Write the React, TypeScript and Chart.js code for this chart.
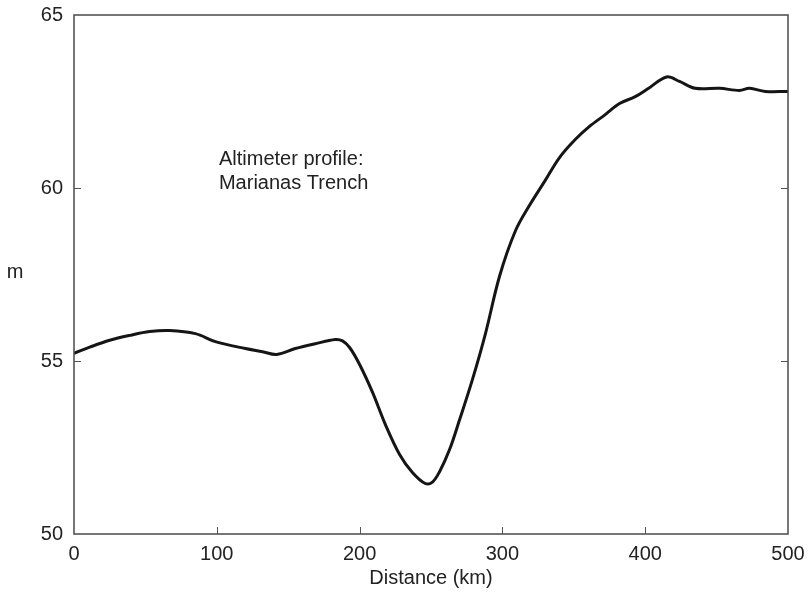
import React, { useEffect, useRef } from "react";
import { Chart, registerables } from "chart.js";

Chart.register(...registerables);

const distanceKm = [0, 11, 25, 39, 53, 67, 85, 99, 120, 132, 142, 155, 169, 183, 188, 193, 200, 209, 218, 228, 237, 246, 251, 256, 263, 270, 279, 288, 298, 309, 319, 330, 340, 351, 361, 372, 382, 393, 403, 415, 424, 435, 452, 466, 473, 484, 500];
const heightM = [55.22, 55.4, 55.6, 55.74, 55.85, 55.88, 55.79, 55.56, 55.36, 55.27, 55.19, 55.36, 55.5, 55.62, 55.58, 55.39, 54.9, 54.1, 53.17, 52.3, 51.78, 51.46, 51.5, 51.8, 52.44, 53.3, 54.46, 55.77, 57.45, 58.75, 59.5, 60.22, 60.88, 61.4, 61.78, 62.12, 62.44, 62.64, 62.9, 63.21, 63.08, 62.88, 62.88, 62.82, 62.88, 62.79, 62.79];
const xTicks = [0, 100, 200, 300, 400, 500];
const yTicks = [50, 55, 60, 65];
const annotationLines = ["Altimeter profile:", "Marianas Trench"];
const xTitle = "Distance (km)";
const yTitle = "m";

const FONT = "'Liberation Sans', Arial, sans-serif";

export default function App() {
  const ref = useRef<HTMLCanvasElement | null>(null);

  useEffect(() => {
    document.body.style.margin = "0";
    const canvas = ref.current;
    if (!canvas) return;

    const framePlugin = {
      id: "frame",
      afterDraw(chart: any) {
        const { ctx, chartArea } = chart;
        const xs = chart.scales.x;
        const ys = chart.scales.y;
        ctx.save();
        ctx.strokeStyle = "#4a4a4a";
        ctx.lineWidth = 1.5;
        ctx.strokeRect(chartArea.left, chartArea.top, chartArea.right - chartArea.left, chartArea.bottom - chartArea.top);
        const tl = 7;
        ctx.lineWidth = 1;
        ctx.strokeStyle = "#555";
        ctx.beginPath();
        yTicks.slice(1, -1).forEach((v) => {
          const py = Math.round(ys.getPixelForValue(v)) + 0.5;
          ctx.moveTo(chartArea.left, py);
          ctx.lineTo(chartArea.left + tl, py);
          ctx.moveTo(chartArea.right, py);
          ctx.lineTo(chartArea.right - tl, py);
        });
        xTicks.slice(1, -1).forEach((v) => {
          const px = Math.round(xs.getPixelForValue(v)) + 0.5;
          ctx.moveTo(px, chartArea.bottom);
          ctx.lineTo(px, chartArea.bottom - tl);
        });
        ctx.stroke();

        ctx.fillStyle = "#222";
        ctx.font = `20px ${FONT}`;
        ctx.textBaseline = "middle";
        ctx.textAlign = "left";
        const ax = xs.getPixelForValue(101.5);
        const ay = ys.getPixelForValue(60.82);
        annotationLines.forEach((t, i) => ctx.fillText(t, ax, ay + i * 24));

        ctx.textAlign = "center";
        ctx.fillText(xTitle, (chartArea.left + chartArea.right) / 2, 578);
        ctx.fillText(yTitle, 15, (chartArea.top + chartArea.bottom) / 2 - 2);
        ctx.restore();
      },
    };

    const chart = new Chart(canvas, {
      type: "line",
      data: {
        datasets: [
          {
            data: distanceKm.map((d, i) => ({ x: d, y: heightM[i] })),
            borderColor: "#151515",
            borderWidth: 3,
            pointRadius: 0,
            tension: 0.35,
            fill: false,
          },
        ],
      },
      options: {
        animation: false,
        responsive: true,
        maintainAspectRatio: false,
        layout: { padding: { top: 15, right: 22, left: 0, bottom: 0 } },
        plugins: { legend: { display: false }, tooltip: { enabled: false } },
        scales: {
          x: {
            type: "linear",
            min: 0,
            max: 500,
            afterBuildTicks: (s: any) => {
              s.ticks = xTicks.map((v) => ({ value: v }));
            },
            afterFit: (s: any) => {
              s.height = 67;
              s.paddingLeft = 0;
              s.paddingRight = 0;
            },
            grid: { display: false, drawTicks: false },
            border: { display: false },
            ticks: { color: "#222", font: { size: 20, family: FONT }, padding: 8, maxRotation: 0 },
          },
          y: {
            type: "linear",
            min: 50,
            max: 65,
            afterBuildTicks: (s: any) => {
              s.ticks = yTicks.map((v) => ({ value: v }));
            },
            afterFit: (s: any) => {
              s.width = 74;
              s.paddingTop = 0;
              s.paddingBottom = 0;
            },
            grid: { display: false, drawTicks: false },
            border: { display: false },
            ticks: { color: "#222", font: { size: 20, family: FONT }, padding: 11 },
          },
        },
      },
      plugins: [framePlugin],
    });

    return () => chart.destroy();
  }, []);

  return (
    <div style={{ width: 810, height: 601, position: "relative", background: "#fff" }}>
      <canvas ref={ref} />
    </div>
  );
}
